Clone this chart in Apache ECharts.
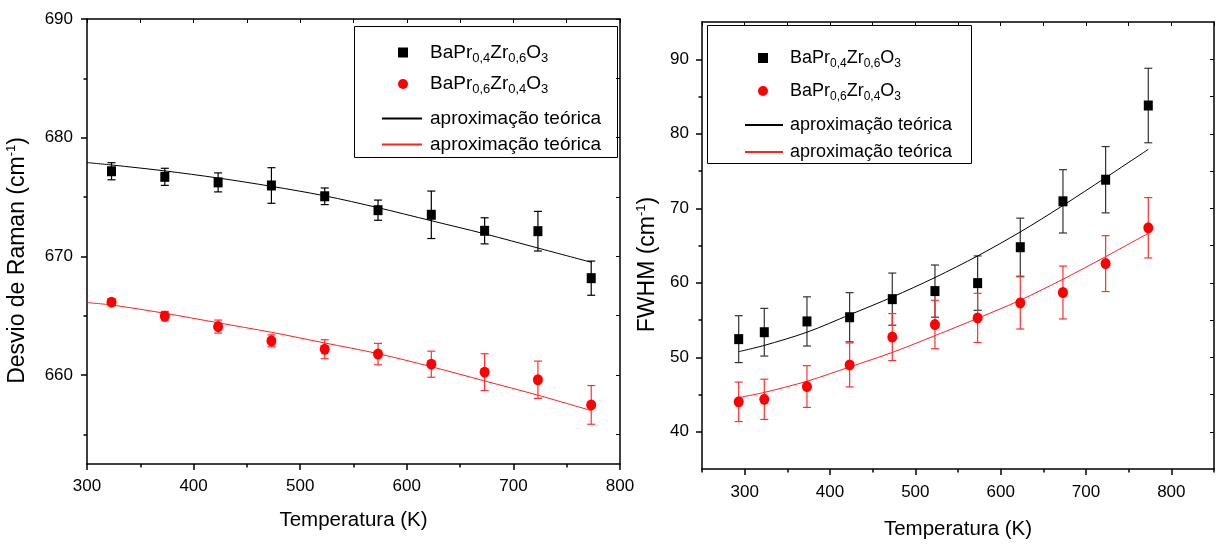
<!DOCTYPE html>
<html><head><meta charset="utf-8">
<script src="https://cdn.jsdelivr.net/npm/echarts@6/dist/echarts.min.js"></script>
<style>html,body{margin:0;padding:0;background:#fff}#c{width:1218px;height:547px}</style>
</head><body><div id="c"></div>
<script>
// ---- data (left: Raman shift, right: FWHM) ----
const tempsLeft = [323, 373, 423, 473, 523, 573, 623, 673, 723, 773];
const ramanA = [677.17, 676.7, 676.23, 675.97, 675.06, 673.89, 673.5, 672.15, 672.12, 668.16];
const ramanAErr = [0.72, 0.72, 0.8, 1.5, 0.7, 0.85, 2.0, 1.1, 1.67, 1.44];
const ramanB = [666.14, 664.96, 664.08, 662.88, 662.17, 661.76, 660.91, 660.24, 659.6, 657.48];
const ramanBErr = [0.3, 0.4, 0.55, 0.5, 0.8, 0.9, 1.1, 1.55, 1.57, 1.63];
const fitTempsLeft = [300, 323, 373, 423, 473, 523, 573, 623, 673, 723, 773];
const ramanFitA = [677.9, 677.7, 677.2, 676.6, 675.9, 675.1, 674.1, 673.0, 671.9, 670.7, 669.5];
const ramanFitB = [666.1, 665.9, 665.2, 664.4, 663.6, 662.7, 661.8, 660.7, 659.5, 658.3, 657.0];

const tempsRight = [293, 323, 373, 423, 473, 523, 573, 623, 673, 723, 773];
const fwhmA = [52.43, 53.36, 54.81, 55.37, 57.8, 58.88, 59.95, 64.77, 70.93, 73.83, 83.79];
const fwhmAErr = [3.15, 3.2, 3.3, 3.3, 3.5, 3.5, 3.65, 3.9, 4.25, 4.45, 5.0];
const fwhmB = [44.02, 44.35, 46.07, 48.97, 52.71, 54.39, 55.28, 57.29, 58.69, 62.57, 67.38];
const fwhmBErr = [2.65, 2.7, 2.8, 2.95, 3.15, 3.25, 3.3, 3.5, 3.55, 3.75, 4.05];
const fwhmFitA = [50.75, 51.59, 53.36, 55.7, 58.08, 60.7, 63.6, 66.82, 70.37, 74.11, 77.9];
const fwhmFitB = [44.58, 45.28, 46.78, 48.69, 50.65, 52.9, 55.23, 57.66, 60.47, 63.5, 66.64];

// tick values
const leftXMajor = [300, 400, 500, 600, 700, 800];
const leftXMinor = [350, 450, 550, 650, 750];
const leftYMajor = [660, 670, 680, 690];
const leftYMinor = [655, 665, 675, 685];
const rightXMajor = [300, 400, 500, 600, 700, 800];
const rightXMinor = [250, 350, 450, 550, 650, 750, 850];
const rightYMajor = [40, 50, 60, 70, 80, 90];
const rightYMinor = [45, 55, 65, 75, 85];

const nameA = 'BaPr0,4Zr0,6O3';
const nameB = 'BaPr0,6Zr0,4O3';
const fit1 = 'fit1', fit2 = 'fit2';
const legendRich = {};
legendRich[nameA] = '{f|BaPr}{s|0,4}{n|Zr}{s|0,6}{n|O}{s|3}';
legendRich[nameB] = '{f|BaPr}{s|0,6}{n|Zr}{s|0,4}{n|O}{s|3}';
legendRich[fit1] = '{m|aproximação teórica}';
legendRich[fit2] = '{m|aproximação teórica}';

const FONT = '"Liberation Sans", Arial, sans-serif';
const zip = (xs, ys) => xs.map((x, i) => [x, ys[i]]);
const errData = (xs, ys, es) => xs.map((x, i) => [x, ys[i] - es[i], ys[i] + es[i]]);
const sorted = a => a.slice().sort((p, q) => p - q);

function errRender(color, cap) {
  return function (params, api) {
    const x = api.value(0), lo = api.value(1), hi = api.value(2);
    const a = api.coord([x, hi]), b = api.coord([x, lo]);
    const st = { stroke: color, lineWidth: 1.2 };
    return { type: 'group', children: [
      { type: 'line', shape: { x1: a[0], y1: a[1], x2: b[0], y2: b[1] }, style: st },
      { type: 'line', shape: { x1: a[0] - cap, y1: a[1], x2: a[0] + cap, y2: a[1] }, style: st },
      { type: 'line', shape: { x1: b[0] - cap, y1: b[1], x2: b[0] + cap, y2: b[1] }, style: st }
    ]};
  };
}

const axisLine = { show: true, lineStyle: { color: '#000', width: 1.5 } };
const labelStyle = { color: '#000', fontSize: 17, fontFamily: FONT };

function xAxes(grid, min, max, major, minor, nameGap, margin) {
  return [
    { gridIndex: grid, type: 'value', position: 'bottom', min, max,
      axisLine, splitLine: { show: false },
      axisTick: { show: true, length: 6, lineStyle: { color: '#000', width: 1.5 }, customValues: major },
      axisLabel: Object.assign({ margin, customValues: major }, labelStyle),
      name: 'Temperatura (K)', nameLocation: 'middle', nameGap,
      nameTextStyle: { color: '#000', fontSize: 20.5, fontFamily: FONT } },
    { gridIndex: grid, type: 'value', position: 'bottom', min, max,
      axisLine: { show: false }, splitLine: { show: false }, axisLabel: { show: false },
      axisTick: { show: true, length: 3.5, lineStyle: { color: '#000', width: 1.5 }, customValues: minor } },
    { gridIndex: grid, type: 'value', position: 'top', min, max,
      axisLine, splitLine: { show: false }, axisLabel: { show: false },
      axisTick: { show: true, inside: true, length: 4, lineStyle: { color: '#000', width: 1 }, customValues: sorted(major.concat(minor)) } }
  ];
}
function yAxes(grid, min, max, major, minor, name, nameGap, margin) {
  return [
    { gridIndex: grid, type: 'value', position: 'left', min, max,
      axisLine, splitLine: { show: false },
      axisTick: { show: true, length: 6, lineStyle: { color: '#000', width: 1.5 }, customValues: major },
      axisLabel: Object.assign({ margin, customValues: major }, labelStyle),
      name, nameLocation: 'middle', nameGap,
      nameTextStyle: { padding: [0, 38, 0, 0], rich: {
        n: { fontSize: 23, lineHeight: 26, fontFamily: FONT, color: '#000' },
        p: { fontSize: 13, lineHeight: 12, verticalAlign: 'top', fontFamily: FONT, color: '#000' } } } },
    { gridIndex: grid, type: 'value', position: 'left', min, max,
      axisLine: { show: false }, splitLine: { show: false }, axisLabel: { show: false },
      axisTick: { show: true, length: 3.5, lineStyle: { color: '#000', width: 1.5 }, customValues: minor } },
    { gridIndex: grid, type: 'value', position: 'right', min, max,
      axisLine, splitLine: { show: false }, axisLabel: { show: false },
      axisTick: { show: true, inside: true, length: 4, lineStyle: { color: '#000', width: 1 }, customValues: sorted(major.concat(minor)) } }
  ];
}

function legendRichStyles(fontSize, textPad) {
  return {
    f: { fontSize, lineHeight: 24, fontFamily: FONT, color: '#000', padding: [0, 0, 0, textPad] },
    n: { fontSize, lineHeight: 24, fontFamily: FONT, color: '#000' },
    s: { fontSize: Math.round(fontSize * 0.68), lineHeight: 12, verticalAlign: 'bottom', fontFamily: FONT, color: '#000' },
    m: { fontSize, lineHeight: 16, fontFamily: FONT, color: '#000', padding: [0, 0, 0, textPad] }
  };
}
function symLegend(left, top, fontSize, itemGap) {
  return {
    left, top, orient: 'vertical', itemWidth: 10, itemHeight: 10, itemGap, padding: 0,
    selectedMode: false, data: [nameA, nameB],
    formatter: n => legendRich[n],
    textStyle: { color: '#000', fontFamily: FONT, rich: legendRichStyles(fontSize, 17) }
  };
}
function lineLegend(left, top, width, fontSize, itemGap, pad) {
  return {
    left, top, orient: 'vertical', itemWidth: width, itemHeight: 2, itemGap, padding: 0,
    selectedMode: false, data: [{ name: fit1, icon: 'rect' }, { name: fit2, icon: 'rect' }],
    formatter: n => legendRich[n],
    textStyle: { color: '#000', fontFamily: FONT, rich: legendRichStyles(fontSize, pad) }
  };
}

function seriesSet(xi, yi, temps, fitTemps, a, aErr, b, bErr, fa, fb, blackErrColor) {
  return [
    { type: 'custom', xAxisIndex: xi, yAxisIndex: yi, renderItem: errRender(blackErrColor, 4),
      data: errData(temps, a, aErr), encode: { x: 0, y: [1, 2] }, z: 2, silent: true },
    { type: 'custom', xAxisIndex: xi, yAxisIndex: yi, renderItem: errRender('#ff3030', 4),
      data: errData(temps, b, bErr), encode: { x: 0, y: [1, 2] }, z: 2, silent: true },
    { name: fit1, type: 'line', xAxisIndex: xi, yAxisIndex: yi, data: zip(fitTemps, fa),
      symbol: 'none', smooth: 0.3, lineStyle: { color: '#000', width: 1 }, itemStyle: { color: '#000' }, z: 3 },
    { name: fit2, type: 'line', xAxisIndex: xi, yAxisIndex: yi, data: zip(fitTemps, fb),
      symbol: 'none', smooth: 0.3, lineStyle: { color: '#ff2020', width: 1 }, itemStyle: { color: '#ff2020' }, z: 3 },
    { name: nameA, type: 'scatter', xAxisIndex: xi, yAxisIndex: yi, data: zip(temps, a),
      symbol: 'rect', symbolSize: [9, 10], itemStyle: { color: '#000', opacity: 1 }, z: 4 },
    { name: nameB, type: 'scatter', xAxisIndex: xi, yAxisIndex: yi, data: zip(temps, b),
      symbol: 'circle', symbolSize: [10, 11], itemStyle: { color: '#ff0000', opacity: 1 }, z: 4 }
  ];
}

const option = {
  backgroundColor: '#fff',
  animation: false,
  grid: [
    { left: 87, top: 19, width: 533, height: 445 },
    { left: 702, top: 22, width: 512, height: 447 }
  ],
  xAxis: xAxes(0, 300, 800, leftXMajor, leftXMinor, 46, 14)
    .concat(xAxes(1, 250, 850, rightXMajor, rightXMinor, 50, 15)),
  yAxis: yAxes(0, 652.5, 690, leftYMajor, leftYMinor, '{n|Desvio de Raman (cm}{p|-1}{n|)}', 56, 14)
    .concat(yAxes(1, 35, 95, rightYMajor, rightYMinor, '{n|FWHM (cm}{p|-1}{n|)}', 41, 13)),
  legend: [
    symLegend(398, 43, 19, 10),
    lineLegend(382, 109, 40, 19, 7, 3),
    symLegend(758, 49, 18, 12),
    lineLegend(745, 116, 38, 18, 9, 2)
  ],
  graphic: [
    { type: 'rect', shape: { x: 354.5, y: 26.5, width: 263, height: 131 }, style: { fill: 'none', stroke: '#000', lineWidth: 1 }, z: 10 },
    { type: 'rect', shape: { x: 707.5, y: 25.5, width: 264, height: 138 }, style: { fill: 'none', stroke: '#000', lineWidth: 1 }, z: 10 }
  ],
  series: seriesSet(0, 0, tempsLeft, fitTempsLeft, ramanA, ramanAErr, ramanB, ramanBErr, ramanFitA, ramanFitB, '#000')
    .concat(seriesSet(3, 3, tempsRight, tempsRight, fwhmA, fwhmAErr, fwhmB, fwhmBErr, fwhmFitA, fwhmFitB, '#333'))
};
const chart = echarts.init(document.getElementById('c'));
chart.setOption(option);
</script></body></html>
